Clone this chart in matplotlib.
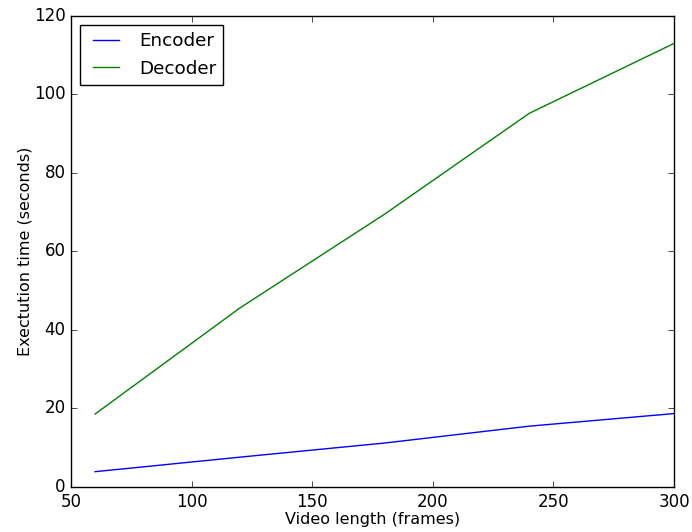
import matplotlib
matplotlib.use("Agg")
import matplotlib.pyplot as plt

plt.style.use("classic")

frames = [60, 120, 180, 240, 300]
encoder = [3.9, 7.6, 11.2, 15.5, 18.7]
decoder = [18.6, 45.6, 69.5, 95.2, 113.0]

fig = plt.figure(figsize=(6.92, 5.32), dpi=100, facecolor="white")
ax = fig.add_axes([0.1026, 0.0846, 0.8714, 0.8854])
ax.plot(frames, encoder, "b", label="Encoder")
ax.plot(frames, decoder, "g", label="Decoder")
ax.set_xlim(50, 300)
ax.set_ylim(0, 120)
ax.set_xlabel("Video length (frames)", fontsize=11.5, labelpad=1)
ax.set_ylabel("Exectution time (seconds)", fontsize=11.5, labelpad=1)
ax.legend(loc="upper left", fontsize=13.2)
fig.savefig("out.png", dpi=100, facecolor="white")
